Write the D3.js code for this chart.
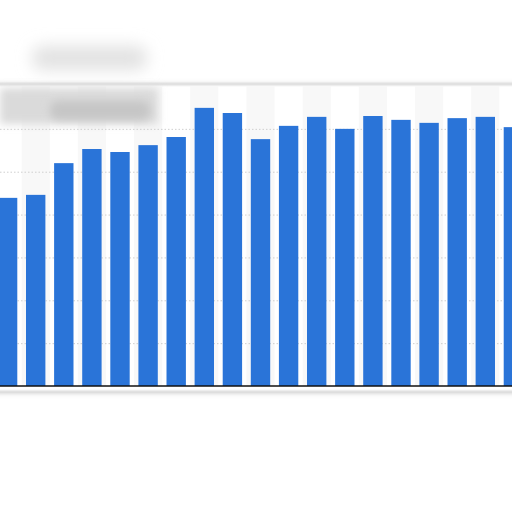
<!DOCTYPE html>
<html>
<head>
<meta charset="utf-8">
<script src="https://cdn.jsdelivr.net/npm/d3@7"></script>
<style>
  html, body { margin: 0; padding: 0; background: #fff; }
  svg { display: block; }
</style>
</head>
<body>
<svg id="chart" width="512" height="512"></svg>
<script>
// ---- data ----
const categories = ["1","2","3","4","5","6","7","8","9","10","11","12","13","14","15","16","17","18","19"];
const values = [4.39, 4.46, 5.20, 5.53, 5.46, 5.62, 5.81, 6.49, 6.37, 5.76, 6.07, 6.28, 6.00, 6.30, 6.21, 6.14, 6.25, 6.28, 6.04];
const yTicks = [0, 1, 2, 3, 4, 5, 6, 7];

const svg = d3.select("#chart");
const W = 512, H = 512;
const plotTop = 86, plotBottom = 386;
const step = 28.1;
const x0 = 7.6 - step / 2;

const defs = svg.append("defs");
function blur(id, sd) {
  defs.append("filter").attr("id", id).attr("x", "-50%").attr("y", "-80%").attr("width", "200%").attr("height", "260%")
    .append("feGaussianBlur").attr("stdDeviation", sd);
}
blur("blurBig", 8);
blur("blurMed", 4);
blur("blurMid", 2);
blur("blurSmall", 0.8);

svg.append("rect").attr("width", W).attr("height", H).attr("fill", "#fff");

// blurred header blob (above panel)
svg.append("rect").attr("x", 32).attr("y", 46).attr("width", 115).attr("height", 24)
  .attr("rx", 10).attr("fill", "#e2e2e2").attr("filter", "url(#blurBig)");

// panel frame with soft shadow
svg.append("rect").attr("x", -12).attr("y", 85).attr("width", W + 24).attr("height", 307)
  .attr("rx", 6).attr("fill", "none").attr("stroke", "#cfcfcf").attr("stroke-width", 3)
  .attr("filter", "url(#blurMid)");
svg.append("rect").attr("x", -10).attr("y", 84.5).attr("width", W + 20).attr("height", 307)
  .attr("rx", 6).attr("fill", "#fff").attr("stroke", "#b4b4b4").attr("stroke-width", 1)
  .attr("filter", "url(#blurSmall)");

// scales
const x = d3.scaleBand().domain(categories)
  .range([x0, x0 + step * categories.length])
  .paddingInner(0.31).paddingOuter(0.155);
const y = d3.scaleLinear().domain([0, 7]).range([plotBottom, plotTop]);

// alternating column shading
svg.append("g").selectAll("rect").data(categories.filter((d, i) => i % 2 === 1)).join("rect")
  .attr("x", d => x(d) + x.bandwidth() / 2 - step / 2)
  .attr("y", plotTop)
  .attr("width", step)
  .attr("height", plotBottom - plotTop)
  .attr("fill", "#f8f8f8");

// darker header blob (over the panel)
svg.append("rect").attr("x", 0).attr("y", 88).attr("width", 158).attr("height", 36)
  .attr("fill", "#dadada").attr("filter", "url(#blurMed)");
svg.append("rect").attr("x", 50).attr("y", 101).attr("width", 100).attr("height", 19)
  .attr("rx", 8).attr("fill", "#c6c6c6").attr("filter", "url(#blurMed)");

// gridlines
const yAxis = d3.axisLeft(y).tickValues(yTicks).tickSize(-W).tickFormat("");
const gy = svg.append("g").call(yAxis);
gy.select(".domain").remove();
gy.selectAll(".tick line").attr("stroke", "#cfcfcf").attr("stroke-dasharray", "1.5,2")
  .attr("x1", 0).attr("x2", W);
gy.selectAll(".tick").filter(d => d === 0 || d === 7).remove();

// bars
svg.append("g").selectAll("rect").data(values).join("rect")
  .attr("x", (d, i) => x(categories[i]))
  .attr("y", d => y(d))
  .attr("width", x.bandwidth())
  .attr("height", d => y(0) - y(d))
  .attr("fill", "#2a74d8");

// baseline
const xAxis = d3.axisBottom(x).tickSize(0).tickFormat("");
const gx = svg.append("g").attr("transform", `translate(0,${plotBottom})`).call(xAxis);
gx.select(".domain").attr("stroke", "#111").attr("stroke-width", 1.5)
  .attr("d", `M0,0H${W}`);
</script>
</body>
</html>
